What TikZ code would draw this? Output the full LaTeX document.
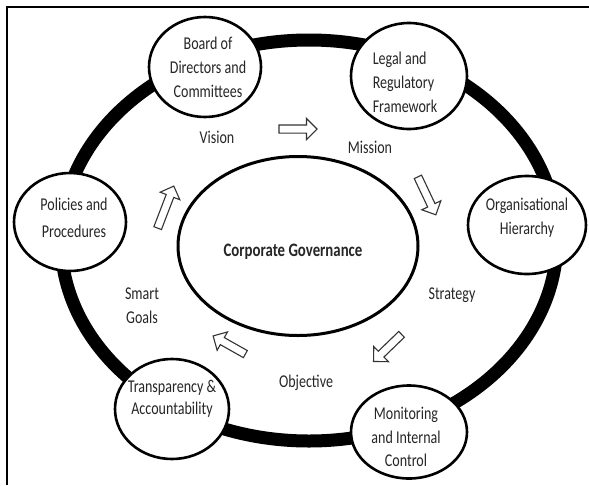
\documentclass[tikz,border=0pt]{standalone}
\usepackage{fontspec}
\setmainfont{Carlito}[FakeStretch=0.78]
\usetikzlibrary{shapes.geometric,shapes.arrows,positioning}

\begin{document}
\begin{tikzpicture}[x=1pt,y=-1pt,
    bubble/.style={ellipse,draw,line width=2.6pt,fill=white,inner sep=0pt},
    word/.style={align=center,inner sep=0pt,text=black!85,
      font=\fontsize{18}{24}\selectfont},
    blockarrow/.style={single arrow,draw=black!80,line width=1.1pt,fill=white,
      inner xsep=0pt,inner ysep=3.5pt,minimum width=20pt,
      single arrow head extend=6.5pt,minimum height=#1},
    blockarrow/.default=40pt]

  \useasboundingbox (0,0) rectangle (589,485);
  \draw[line width=1.8pt] (589,7) -- (7,7) -- (7,485);

  % the ring
  \draw[line width=13pt] (309,240.5) ellipse [x radius=248, y radius=200.5];

  % circles on the ring
  \node[bubble,minimum width=112pt,minimum height=100pt] (board)  at (205,67)  {};
  \node[bubble,minimum width=116pt,minimum height=106pt] (legal)  at (409,76)  {};
  \node[bubble,minimum width=118pt,minimum height=98pt]  (hier)   at (527,225) {};
  \node[bubble,minimum width=112pt,minimum height=98pt]  (policy) at (70,222)  {};
  \node[bubble,minimum width=114pt,minimum height=100pt] (transp) at (172,409) {};
  \node[bubble,minimum width=116pt,minimum height=93pt]  (monit)  at (409,432) {};

  \node[word] (board-t)  at (208,67)  {Board of\\Directors and\\Committees};
  \node[word,align=left] (legal-t) at (405,82) {Legal and\\Regulatory\\Framework};
  \node[word] (hier-t)   at (527,218) {Organisational\\Hierarchy};
  \node[word,font=\fontsize{18}{27}\selectfont] (policy-t) at (74,218) {Policies and\\Procedures};
  \node[word,font=\fontsize{18}{22}\selectfont] (transp-t) at (172,399) {Transparency \&\\Accountability};
  \node[word,font=\fontsize{18}{23.5}\selectfont] (monit-t) at (406,437) {Monitoring\\and Internal\\Control};

  % centre
  \node[bubble,line width=3pt,minimum width=240pt,minimum height=179pt] (core) at (298,246) {};
  \node[word,font=\bfseries\fontsize{19}{24}\selectfont] (core-t) at (293,252) {Corporate Governance};

  % stages
  \node[word] (vision)    at (217,137) {Vision};
  \node[word] (mission)   at (370,147) {Mission};
  \node[word] (strategy)  at (452,295) {Strategy};
  \node[word] (objective) at (306,383) {Objective};
  \node[word] (goals)     at (142,306) {Smart\\Goals};

  \node[blockarrow=38pt]              (a1) at (296,129)   {};
  \node[blockarrow=42pt,rotate=-64.7] (a2) at (426,194)   {};
  \node[blockarrow=39pt,rotate=-136]  (a3) at (389,346.5) {};
  \node[blockarrow=37pt,rotate=150.6] (a4) at (231,346)   {};
  \node[blockarrow=45pt,rotate=69]    (a5) at (165,209)   {};
\end{tikzpicture}
\end{document}
